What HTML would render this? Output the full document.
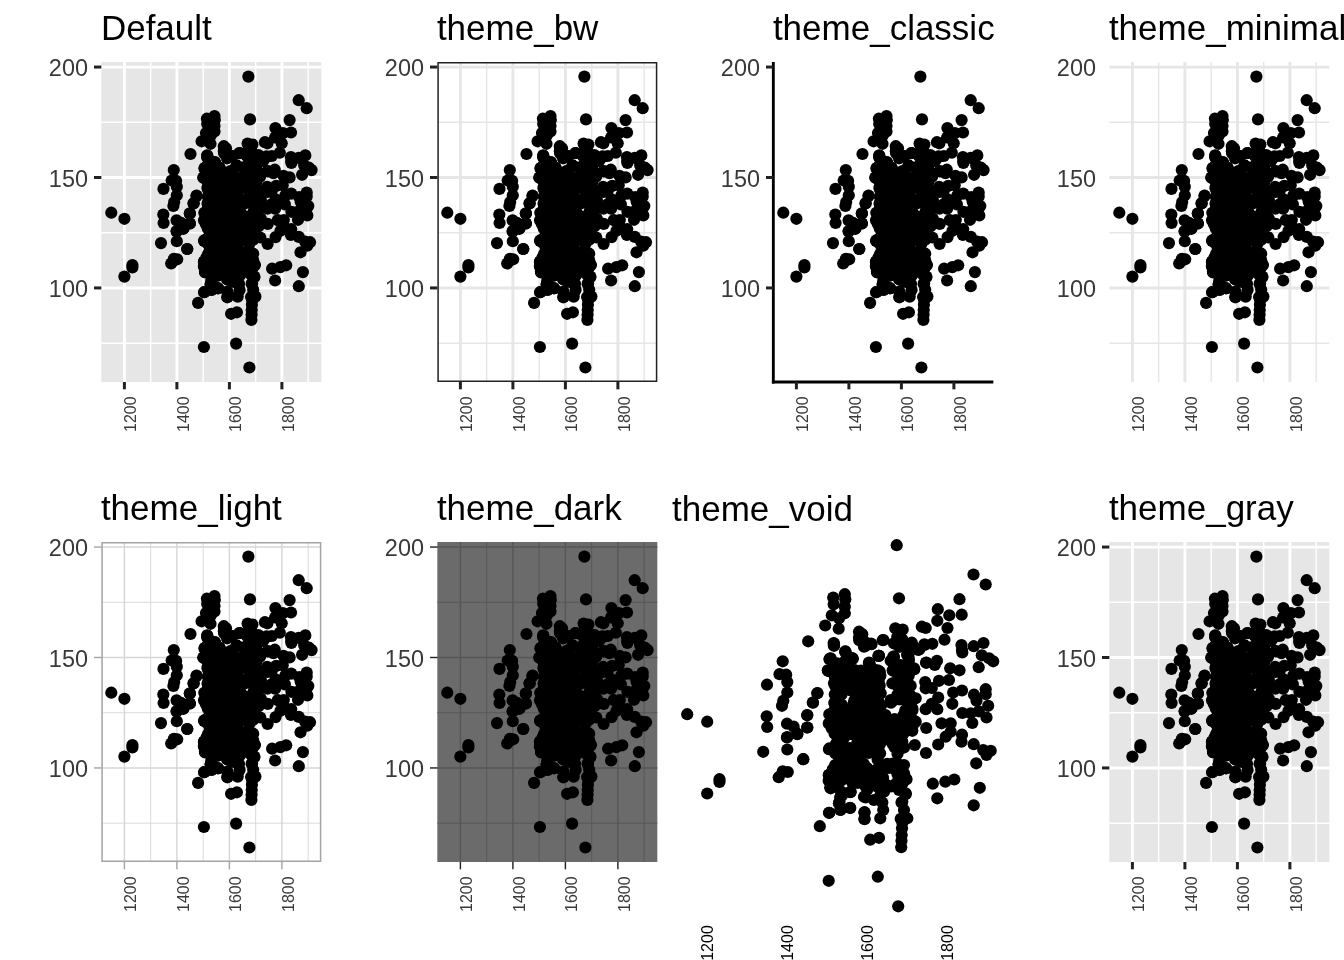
<!DOCTYPE html>
<html><head><meta charset="utf-8"><title>ggplot2 themes</title>
<style>
html,body{margin:0;padding:0;background:#fff;}
body{width:1344px;height:960px;overflow:hidden;}
svg{display:block;font-family:'Liberation Sans', Arial, sans-serif;}
</style></head><body>
<svg width="1344" height="960" viewBox="0 0 1344 960">
<rect width="1344" height="960" fill="#fff"/>
<defs><g id="pts"><g fill="#000"><circle cx="248.4" cy="76.6" r="6.1"/><circle cx="298.7" cy="100.2" r="6.1"/><circle cx="306.7" cy="108.2" r="6.1"/><circle cx="250.0" cy="119.4" r="6.1"/><circle cx="289.6" cy="120.1" r="6.1"/><circle cx="275.4" cy="128.1" r="6.1"/><circle cx="282.9" cy="133.1" r="6.1"/><circle cx="291.0" cy="132.5" r="6.1"/><circle cx="275.1" cy="137.5" r="6.1"/><circle cx="281.7" cy="143.3" r="6.1"/><circle cx="264.9" cy="142.2" r="6.1"/><circle cx="267.4" cy="143.3" r="6.1"/><circle cx="279.8" cy="152.7" r="6.1"/><circle cx="206.9" cy="118.7" r="6.1"/><circle cx="214.5" cy="116.0" r="6.1"/><circle cx="214.8" cy="120.1" r="6.1"/><circle cx="207.2" cy="124.1" r="6.1"/><circle cx="214.5" cy="126.1" r="6.1"/><circle cx="206.0" cy="133.1" r="6.1"/><circle cx="214.5" cy="131.5" r="6.1"/><circle cx="210.7" cy="135.5" r="6.1"/><circle cx="201.6" cy="141.3" r="6.1"/><circle cx="210.5" cy="143.8" r="6.1"/><circle cx="190.5" cy="154.0" r="6.1"/><circle cx="207.2" cy="155.4" r="6.1"/><circle cx="207.4" cy="157.7" r="6.1"/><circle cx="223.8" cy="146.2" r="6.1"/><circle cx="226.0" cy="148.3" r="6.1"/><circle cx="223.8" cy="150.9" r="6.1"/><circle cx="228.1" cy="155.0" r="6.1"/><circle cx="232.0" cy="156.3" r="6.1"/><circle cx="227.0" cy="158.3" r="6.1"/><circle cx="239.8" cy="153.0" r="6.1"/><circle cx="247.6" cy="143.6" r="6.1"/><circle cx="252.4" cy="144.5" r="6.1"/><circle cx="248.9" cy="150.3" r="6.1"/><circle cx="252.1" cy="152.3" r="6.1"/><circle cx="246.7" cy="155.6" r="6.1"/><circle cx="256.0" cy="156.3" r="6.1"/><circle cx="259.8" cy="159.0" r="6.1"/><circle cx="262.5" cy="161.0" r="6.1"/><circle cx="266.7" cy="157.0" r="6.1"/><circle cx="271.8" cy="156.0" r="6.1"/><circle cx="290.9" cy="157.0" r="6.1"/><circle cx="291.2" cy="161.0" r="6.1"/><circle cx="298.8" cy="157.9" r="6.1"/><circle cx="305.3" cy="155.4" r="6.1"/><circle cx="111.3" cy="212.7" r="6.1"/><circle cx="124.4" cy="218.8" r="6.1"/><circle cx="163.5" cy="188.9" r="6.1"/><circle cx="173.8" cy="170.1" r="6.1"/><circle cx="171.7" cy="180.5" r="6.1"/><circle cx="176.1" cy="180.9" r="6.1"/><circle cx="176.8" cy="186.8" r="6.1"/><circle cx="176.8" cy="195.3" r="6.1"/><circle cx="174.2" cy="202.0" r="6.1"/><circle cx="173.4" cy="206.0" r="6.1"/><circle cx="163.3" cy="214.5" r="6.1"/><circle cx="163.6" cy="223.0" r="6.1"/><circle cx="176.6" cy="220.4" r="6.1"/><circle cx="181.0" cy="222.8" r="6.1"/><circle cx="183.4" cy="228.4" r="6.1"/><circle cx="176.6" cy="231.5" r="6.1"/><circle cx="176.8" cy="241.2" r="6.1"/><circle cx="161.0" cy="243.1" r="6.1"/><circle cx="187.3" cy="249.0" r="6.1"/><circle cx="189.8" cy="213.6" r="6.1"/><circle cx="189.8" cy="223.5" r="6.1"/><circle cx="193.7" cy="203.4" r="6.1"/><circle cx="196.6" cy="195.7" r="6.1"/><circle cx="204.5" cy="240.2" r="6.1"/><circle cx="204.5" cy="168.4" r="6.1"/><circle cx="203.4" cy="177.4" r="6.1"/><circle cx="214.8" cy="162.1" r="6.1"/><circle cx="219.7" cy="168.0" r="6.1"/><circle cx="236.6" cy="165.7" r="6.1"/><circle cx="230.6" cy="171.8" r="6.1"/><circle cx="236.6" cy="178.2" r="6.1"/><circle cx="267.7" cy="171.1" r="6.1"/><circle cx="274.8" cy="169.7" r="6.1"/><circle cx="273.4" cy="173.1" r="6.1"/><circle cx="283.5" cy="175.8" r="6.1"/><circle cx="289.6" cy="177.4" r="6.1"/><circle cx="302.1" cy="174.8" r="6.1"/><circle cx="304.2" cy="165.3" r="6.1"/><circle cx="308.9" cy="167.7" r="6.1"/><circle cx="311.6" cy="170.1" r="6.1"/><circle cx="267.1" cy="186.8" r="6.1"/><circle cx="276.2" cy="185.9" r="6.1"/><circle cx="282.7" cy="185.2" r="6.1"/><circle cx="267.4" cy="191.9" r="6.1"/><circle cx="285.4" cy="195.3" r="6.1"/><circle cx="291.2" cy="193.6" r="6.1"/><circle cx="306.7" cy="192.6" r="6.1"/><circle cx="299.1" cy="197.0" r="6.1"/><circle cx="306.7" cy="196.6" r="6.1"/><circle cx="300.7" cy="202.0" r="6.1"/><circle cx="275.6" cy="199.3" r="6.1"/><circle cx="284.9" cy="204.4" r="6.1"/><circle cx="267.4" cy="208.7" r="6.1"/><circle cx="275.1" cy="208.7" r="6.1"/><circle cx="308.3" cy="206.0" r="6.1"/><circle cx="291.4" cy="211.8" r="6.1"/><circle cx="296.9" cy="212.0" r="6.1"/><circle cx="307.3" cy="215.4" r="6.1"/><circle cx="298.0" cy="219.8" r="6.1"/><circle cx="277.8" cy="220.1" r="6.1"/><circle cx="283.8" cy="220.1" r="6.1"/><circle cx="267.7" cy="223.9" r="6.1"/><circle cx="283.8" cy="226.8" r="6.1"/><circle cx="280.5" cy="230.8" r="6.1"/><circle cx="291.2" cy="229.2" r="6.1"/><circle cx="290.9" cy="234.9" r="6.1"/><circle cx="275.6" cy="237.1" r="6.1"/><circle cx="298.8" cy="236.9" r="6.1"/><circle cx="260.3" cy="237.5" r="6.1"/><circle cx="267.6" cy="244.0" r="6.1"/><circle cx="305.1" cy="241.6" r="6.1"/><circle cx="310.0" cy="242.2" r="6.1"/><circle cx="307.3" cy="245.6" r="6.1"/><circle cx="300.5" cy="252.3" r="6.1"/><circle cx="272.1" cy="268.7" r="6.1"/><circle cx="280.3" cy="267.1" r="6.1"/><circle cx="286.2" cy="265.3" r="6.1"/><circle cx="302.9" cy="272.1" r="6.1"/><circle cx="275.1" cy="280.5" r="6.1"/><circle cx="298.8" cy="286.2" r="6.1"/><circle cx="291.4" cy="163.0" r="6.1"/><circle cx="196.5" cy="195.9" r="6.1"/><circle cx="193.5" cy="203.3" r="6.1"/><circle cx="189.9" cy="213.4" r="6.1"/><circle cx="189.9" cy="223.5" r="6.1"/><circle cx="187.2" cy="249.0" r="6.1"/><circle cx="236.9" cy="165.7" r="6.1"/><circle cx="205.2" cy="167.7" r="6.1"/><circle cx="203.6" cy="177.8" r="6.1"/><circle cx="219.4" cy="167.7" r="6.1"/><circle cx="230.3" cy="171.1" r="6.1"/><circle cx="237.4" cy="178.5" r="6.1"/><circle cx="246.1" cy="166.4" r="6.1"/><circle cx="259.8" cy="176.5" r="6.1"/><circle cx="255.4" cy="165.0" r="6.1"/><circle cx="245.6" cy="187.9" r="6.1"/><circle cx="234.1" cy="187.9" r="6.1"/><circle cx="238.0" cy="195.9" r="6.1"/><circle cx="244.5" cy="201.3" r="6.1"/><circle cx="257.6" cy="189.9" r="6.1"/><circle cx="260.9" cy="200.0" r="6.1"/><circle cx="258.7" cy="208.0" r="6.1"/><circle cx="260.9" cy="218.8" r="6.1"/><circle cx="258.7" cy="226.1" r="6.1"/><circle cx="252.1" cy="234.9" r="6.1"/><circle cx="247.2" cy="239.6" r="6.1"/><circle cx="253.2" cy="239.6" r="6.1"/><circle cx="204.1" cy="240.9" r="6.1"/><circle cx="208.5" cy="253.7" r="6.1"/><circle cx="204.1" cy="261.7" r="6.1"/><circle cx="205.2" cy="272.5" r="6.1"/><circle cx="218.3" cy="275.1" r="6.1"/><circle cx="210.7" cy="284.5" r="6.1"/><circle cx="227.0" cy="279.2" r="6.1"/><circle cx="253.2" cy="253.7" r="6.1"/><circle cx="254.9" cy="265.1" r="6.1"/><circle cx="254.3" cy="276.5" r="6.1"/><circle cx="252.1" cy="283.2" r="6.1"/><circle cx="214.8" cy="171.8" r="6.1"/><circle cx="209.6" cy="181.2" r="6.1"/><circle cx="212.9" cy="187.9" r="6.1"/><circle cx="220.5" cy="187.9" r="6.1"/><circle cx="227.0" cy="181.2" r="6.1"/><circle cx="203.9" cy="347.0" r="6.1"/><circle cx="236.1" cy="343.6" r="6.1"/><circle cx="249.4" cy="367.5" r="6.1"/><circle cx="198.1" cy="302.9" r="6.1"/><circle cx="204.1" cy="292.2" r="6.1"/><circle cx="231.1" cy="313.8" r="6.1"/><circle cx="236.9" cy="312.3" r="6.1"/><circle cx="227.4" cy="291.9" r="6.1"/><circle cx="227.4" cy="297.0" r="6.1"/><circle cx="237.7" cy="296.6" r="6.1"/><circle cx="239.6" cy="289.9" r="6.1"/><circle cx="239.0" cy="283.9" r="6.1"/><circle cx="228.1" cy="279.8" r="6.1"/><circle cx="233.6" cy="281.9" r="6.1"/><circle cx="218.1" cy="275.4" r="6.1"/><circle cx="218.1" cy="288.3" r="6.1"/><circle cx="211.8" cy="289.6" r="6.1"/><circle cx="210.7" cy="284.5" r="6.1"/><circle cx="205.2" cy="271.8" r="6.1"/><circle cx="204.1" cy="265.7" r="6.1"/><circle cx="251.4" cy="319.9" r="6.1"/><circle cx="251.6" cy="314.8" r="6.1"/><circle cx="251.7" cy="310.1" r="6.1"/><circle cx="251.9" cy="304.7" r="6.1"/><circle cx="252.1" cy="300.0" r="6.1"/><circle cx="251.1" cy="297.0" r="6.1"/><circle cx="255.4" cy="296.6" r="6.1"/><circle cx="253.2" cy="289.9" r="6.1"/><circle cx="251.6" cy="283.9" r="6.1"/><circle cx="254.3" cy="277.2" r="6.1"/><circle cx="254.3" cy="265.1" r="6.1"/><circle cx="212.9" cy="277.8" r="6.1"/><circle cx="228.1" cy="271.1" r="6.1"/><circle cx="235.8" cy="271.1" r="6.1"/><circle cx="240.1" cy="275.1" r="6.1"/><circle cx="246.7" cy="269.8" r="6.1"/><circle cx="250.0" cy="273.8" r="6.1"/><circle cx="216.1" cy="264.4" r="6.1"/><circle cx="227.0" cy="264.4" r="6.1"/><circle cx="235.8" cy="263.1" r="6.1"/><circle cx="251.1" cy="263.1" r="6.1"/><circle cx="124.4" cy="276.6" r="6.1"/><circle cx="132.4" cy="265.1" r="6.1"/><circle cx="132.4" cy="267.4" r="6.1"/><circle cx="176.7" cy="231.1" r="6.1"/><circle cx="183.4" cy="228.8" r="6.1"/><circle cx="173.9" cy="258.8" r="6.1"/><circle cx="177.2" cy="259.3" r="6.1"/><circle cx="171.2" cy="263.5" r="6.1"/><circle cx="204.3" cy="292.2" r="6.1"/><circle cx="227.4" cy="291.7" r="6.1"/><circle cx="227.4" cy="297.3" r="6.1"/><circle cx="211.5" cy="289.9" r="6.1"/><circle cx="217.9" cy="288.2" r="6.1"/><circle cx="211.0" cy="283.2" r="6.1"/><circle cx="218.1" cy="275.5" r="6.1"/><circle cx="205.0" cy="271.8" r="6.1"/><circle cx="203.9" cy="261.7" r="6.1"/><circle cx="203.9" cy="266.4" r="6.1"/><circle cx="204.5" cy="240.9" r="6.1"/><circle cx="208.3" cy="253.7" r="6.1"/><circle cx="271.5" cy="191.6" r="6.1"/><circle cx="271.5" cy="204.4" r="6.1"/><circle cx="302.2" cy="210.4" r="6.1"/><circle cx="204.3" cy="261.6" r="6.1"/><circle cx="212.0" cy="266.3" r="6.1"/><circle cx="212.0" cy="275.0" r="6.1"/><circle cx="211.4" cy="279.7" r="6.1"/><circle cx="229.4" cy="273.0" r="6.1"/><circle cx="233.8" cy="269.6" r="6.1"/><circle cx="238.2" cy="275.0" r="6.1"/><circle cx="237.1" cy="279.7" r="6.1"/><circle cx="240.9" cy="269.0" r="6.1"/><circle cx="244.7" cy="271.0" r="6.1"/><circle cx="236.6" cy="165.7" r="6.1"/><circle cx="214.8" cy="162.4" r="6.1"/><circle cx="219.4" cy="167.7" r="6.1"/><circle cx="204.7" cy="168.0" r="6.1"/><circle cx="267.7" cy="171.4" r="6.1"/><circle cx="255.4" cy="164.4" r="6.1"/><circle cx="246.7" cy="166.4" r="6.1"/><circle cx="244.5" cy="169.7" r="6.1"/><circle cx="256.5" cy="169.1" r="6.1"/><circle cx="230.3" cy="171.8" r="6.1"/><circle cx="251.1" cy="173.1" r="6.1"/><circle cx="259.8" cy="175.8" r="6.1"/><circle cx="246.1" cy="177.8" r="6.1"/><circle cx="255.4" cy="178.5" r="6.1"/><circle cx="236.3" cy="178.2" r="6.1"/><circle cx="203.6" cy="177.8" r="6.1"/><circle cx="209.6" cy="171.8" r="6.1"/><circle cx="212.9" cy="178.5" r="6.1"/><circle cx="220.5" cy="178.5" r="6.1"/><circle cx="227.0" cy="178.5" r="6.1"/><circle cx="246.7" cy="187.9" r="6.1"/><circle cx="254.3" cy="187.9" r="6.1"/><circle cx="233.6" cy="187.9" r="6.1"/><circle cx="207.4" cy="187.9" r="6.1"/><circle cx="221.6" cy="185.2" r="6.1"/><circle cx="215.0" cy="169.1" r="6.1"/><circle cx="207.3" cy="155.8" r="6.1"/><circle cx="207.3" cy="157.1" r="6.1"/><circle cx="215.0" cy="162.8" r="6.1"/><circle cx="204.9" cy="168.5" r="6.1"/><circle cx="219.4" cy="168.2" r="6.1"/><circle cx="204.1" cy="177.6" r="6.1"/><circle cx="227.8" cy="157.8" r="6.1"/><circle cx="224.0" cy="153.1" r="6.1"/><circle cx="231.6" cy="155.8" r="6.1"/><circle cx="236.5" cy="165.8" r="6.1"/><circle cx="230.5" cy="172.2" r="6.1"/><circle cx="236.0" cy="178.6" r="6.1"/><circle cx="239.3" cy="153.1" r="6.1"/><circle cx="246.9" cy="155.8" r="6.1"/><circle cx="246.4" cy="167.2" r="6.1"/><circle cx="256.2" cy="166.5" r="6.1"/><circle cx="250.2" cy="158.5" r="6.1"/><circle cx="258.4" cy="155.1" r="6.1"/><circle cx="263.3" cy="160.5" r="6.1"/><circle cx="266.5" cy="156.4" r="6.1"/><circle cx="245.8" cy="177.3" r="6.1"/><circle cx="260.0" cy="176.6" r="6.1"/><circle cx="246.6" cy="188.0" r="6.1"/><circle cx="256.7" cy="190.7" r="6.1"/><circle cx="232.7" cy="187.3" r="6.1"/><circle cx="237.1" cy="196.7" r="6.1"/><circle cx="244.7" cy="203.4" r="6.1"/><circle cx="260.0" cy="200.1" r="6.1"/><circle cx="208.2" cy="183.3" r="6.1"/><circle cx="208.2" cy="190.0" r="6.1"/><circle cx="207.9" cy="196.7" r="6.1"/><circle cx="207.6" cy="203.4" r="6.1"/><circle cx="207.3" cy="210.2" r="6.1"/><circle cx="204.3" cy="212.8" r="6.1"/><circle cx="206.7" cy="177.0" r="6.1"/><circle cx="209.9" cy="177.2" r="6.1"/><circle cx="213.8" cy="176.7" r="6.1"/><circle cx="217.9" cy="177.4" r="6.1"/><circle cx="220.9" cy="177.2" r="6.1"/><circle cx="225.0" cy="177.7" r="6.1"/><circle cx="229.0" cy="176.7" r="6.1"/><circle cx="233.0" cy="176.5" r="6.1"/><circle cx="236.0" cy="177.5" r="6.1"/><circle cx="247.6" cy="177.2" r="6.1"/><circle cx="251.4" cy="176.8" r="6.1"/><circle cx="254.9" cy="177.2" r="6.1"/><circle cx="258.5" cy="177.0" r="6.1"/><circle cx="207.7" cy="181.4" r="6.1"/><circle cx="212.2" cy="181.8" r="6.1"/><circle cx="216.1" cy="180.7" r="6.1"/><circle cx="219.3" cy="181.3" r="6.1"/><circle cx="222.5" cy="181.0" r="6.1"/><circle cx="226.4" cy="180.4" r="6.1"/><circle cx="230.0" cy="181.5" r="6.1"/><circle cx="233.8" cy="180.6" r="6.1"/><circle cx="237.8" cy="181.6" r="6.1"/><circle cx="249.5" cy="181.6" r="6.1"/><circle cx="252.5" cy="180.9" r="6.1"/><circle cx="256.3" cy="181.7" r="6.1"/><circle cx="210.2" cy="184.6" r="6.1"/><circle cx="217.4" cy="185.1" r="6.1"/><circle cx="221.9" cy="185.3" r="6.1"/><circle cx="225.0" cy="185.2" r="6.1"/><circle cx="228.9" cy="184.3" r="6.1"/><circle cx="232.9" cy="185.5" r="6.1"/><circle cx="236.6" cy="185.5" r="6.1"/><circle cx="250.6" cy="184.5" r="6.1"/><circle cx="254.4" cy="184.3" r="6.1"/><circle cx="208.4" cy="188.4" r="6.1"/><circle cx="219.9" cy="189.8" r="6.1"/><circle cx="223.1" cy="189.0" r="6.1"/><circle cx="226.3" cy="188.3" r="6.1"/><circle cx="230.3" cy="188.6" r="6.1"/><circle cx="234.7" cy="188.4" r="6.1"/><circle cx="237.3" cy="189.7" r="6.1"/><circle cx="249.1" cy="189.8" r="6.1"/><circle cx="253.3" cy="189.3" r="6.1"/><circle cx="256.2" cy="188.8" r="6.1"/><circle cx="210.5" cy="193.7" r="6.1"/><circle cx="218.0" cy="193.3" r="6.1"/><circle cx="220.9" cy="193.0" r="6.1"/><circle cx="224.8" cy="192.2" r="6.1"/><circle cx="228.1" cy="192.6" r="6.1"/><circle cx="232.1" cy="193.3" r="6.1"/><circle cx="236.7" cy="192.9" r="6.1"/><circle cx="250.5" cy="192.5" r="6.1"/><circle cx="254.8" cy="193.6" r="6.1"/><circle cx="208.8" cy="197.4" r="6.1"/><circle cx="212.3" cy="196.9" r="6.1"/><circle cx="223.7" cy="196.8" r="6.1"/><circle cx="226.7" cy="197.6" r="6.1"/><circle cx="230.8" cy="196.4" r="6.1"/><circle cx="233.8" cy="196.4" r="6.1"/><circle cx="248.9" cy="197.0" r="6.1"/><circle cx="252.3" cy="196.1" r="6.1"/><circle cx="257.1" cy="197.2" r="6.1"/><circle cx="209.8" cy="200.6" r="6.1"/><circle cx="220.8" cy="201.6" r="6.1"/><circle cx="224.8" cy="200.8" r="6.1"/><circle cx="228.8" cy="201.6" r="6.1"/><circle cx="232.3" cy="201.6" r="6.1"/><circle cx="236.1" cy="201.0" r="6.1"/><circle cx="246.6" cy="201.4" r="6.1"/><circle cx="250.5" cy="200.9" r="6.1"/><circle cx="254.9" cy="201.0" r="6.1"/><circle cx="258.1" cy="200.9" r="6.1"/><circle cx="207.9" cy="204.5" r="6.1"/><circle cx="212.3" cy="204.9" r="6.1"/><circle cx="219.9" cy="204.8" r="6.1"/><circle cx="223.3" cy="204.9" r="6.1"/><circle cx="226.8" cy="205.2" r="6.1"/><circle cx="230.5" cy="204.9" r="6.1"/><circle cx="234.2" cy="205.6" r="6.1"/><circle cx="238.2" cy="205.5" r="6.1"/><circle cx="255.9" cy="204.5" r="6.1"/><circle cx="210.3" cy="208.3" r="6.1"/><circle cx="214.3" cy="209.6" r="6.1"/><circle cx="217.2" cy="209.6" r="6.1"/><circle cx="221.1" cy="208.8" r="6.1"/><circle cx="225.6" cy="209.4" r="6.1"/><circle cx="228.2" cy="208.7" r="6.1"/><circle cx="232.4" cy="208.6" r="6.1"/><circle cx="235.7" cy="208.6" r="6.1"/><circle cx="254.1" cy="209.6" r="6.1"/><circle cx="258.7" cy="209.6" r="6.1"/><circle cx="208.0" cy="212.2" r="6.1"/><circle cx="211.9" cy="213.5" r="6.1"/><circle cx="216.1" cy="212.4" r="6.1"/><circle cx="218.9" cy="213.5" r="6.1"/><circle cx="223.2" cy="213.1" r="6.1"/><circle cx="226.3" cy="212.1" r="6.1"/><circle cx="230.8" cy="212.7" r="6.1"/><circle cx="233.7" cy="213.5" r="6.1"/><circle cx="238.1" cy="213.3" r="6.1"/><circle cx="241.1" cy="213.4" r="6.1"/><circle cx="252.9" cy="213.5" r="6.1"/><circle cx="256.2" cy="212.2" r="6.1"/><circle cx="205.8" cy="216.3" r="6.1"/><circle cx="209.9" cy="216.5" r="6.1"/><circle cx="214.2" cy="216.4" r="6.1"/><circle cx="217.6" cy="216.3" r="6.1"/><circle cx="221.1" cy="216.0" r="6.1"/><circle cx="224.6" cy="216.0" r="6.1"/><circle cx="229.0" cy="216.9" r="6.1"/><circle cx="232.0" cy="216.7" r="6.1"/><circle cx="236.7" cy="216.2" r="6.1"/><circle cx="240.2" cy="216.7" r="6.1"/><circle cx="243.5" cy="217.3" r="6.1"/><circle cx="247.1" cy="216.8" r="6.1"/><circle cx="251.2" cy="217.6" r="6.1"/><circle cx="254.4" cy="217.3" r="6.1"/><circle cx="258.6" cy="217.0" r="6.1"/><circle cx="204.0" cy="220.2" r="6.1"/><circle cx="207.7" cy="221.1" r="6.1"/><circle cx="211.7" cy="220.2" r="6.1"/><circle cx="215.2" cy="221.3" r="6.1"/><circle cx="219.9" cy="221.0" r="6.1"/><circle cx="222.8" cy="220.3" r="6.1"/><circle cx="226.6" cy="220.7" r="6.1"/><circle cx="230.1" cy="220.7" r="6.1"/><circle cx="233.9" cy="221.5" r="6.1"/><circle cx="238.6" cy="220.8" r="6.1"/><circle cx="241.3" cy="221.5" r="6.1"/><circle cx="245.1" cy="220.5" r="6.1"/><circle cx="248.4" cy="220.6" r="6.1"/><circle cx="252.8" cy="220.8" r="6.1"/><circle cx="256.1" cy="220.8" r="6.1"/><circle cx="259.6" cy="220.4" r="6.1"/><circle cx="205.8" cy="224.0" r="6.1"/><circle cx="209.9" cy="224.3" r="6.1"/><circle cx="214.0" cy="224.8" r="6.1"/><circle cx="217.9" cy="225.0" r="6.1"/><circle cx="221.5" cy="225.3" r="6.1"/><circle cx="224.8" cy="224.5" r="6.1"/><circle cx="229.3" cy="224.2" r="6.1"/><circle cx="232.7" cy="225.0" r="6.1"/><circle cx="235.5" cy="225.3" r="6.1"/><circle cx="240.3" cy="224.9" r="6.1"/><circle cx="243.8" cy="225.2" r="6.1"/><circle cx="246.8" cy="224.8" r="6.1"/><circle cx="250.9" cy="225.3" r="6.1"/><circle cx="255.1" cy="225.3" r="6.1"/><circle cx="258.5" cy="225.4" r="6.1"/><circle cx="207.8" cy="228.5" r="6.1"/><circle cx="211.5" cy="229.2" r="6.1"/><circle cx="215.8" cy="228.9" r="6.1"/><circle cx="219.6" cy="229.0" r="6.1"/><circle cx="223.1" cy="227.9" r="6.1"/><circle cx="227.2" cy="229.1" r="6.1"/><circle cx="230.5" cy="228.8" r="6.1"/><circle cx="234.5" cy="228.0" r="6.1"/><circle cx="238.3" cy="228.3" r="6.1"/><circle cx="241.1" cy="228.3" r="6.1"/><circle cx="245.7" cy="228.2" r="6.1"/><circle cx="249.4" cy="229.5" r="6.1"/><circle cx="252.8" cy="228.5" r="6.1"/><circle cx="210.4" cy="232.4" r="6.1"/><circle cx="213.9" cy="231.9" r="6.1"/><circle cx="225.2" cy="232.3" r="6.1"/><circle cx="228.7" cy="232.6" r="6.1"/><circle cx="232.3" cy="232.1" r="6.1"/><circle cx="236.6" cy="232.2" r="6.1"/><circle cx="240.4" cy="233.4" r="6.1"/><circle cx="242.9" cy="232.6" r="6.1"/><circle cx="247.7" cy="233.4" r="6.1"/><circle cx="250.9" cy="232.3" r="6.1"/><circle cx="208.7" cy="236.7" r="6.1"/><circle cx="212.5" cy="237.0" r="6.1"/><circle cx="222.5" cy="236.6" r="6.1"/><circle cx="226.8" cy="236.3" r="6.1"/><circle cx="230.1" cy="236.4" r="6.1"/><circle cx="234.0" cy="237.2" r="6.1"/><circle cx="237.3" cy="237.1" r="6.1"/><circle cx="245.9" cy="237.0" r="6.1"/><circle cx="249.6" cy="236.3" r="6.1"/><circle cx="205.9" cy="241.2" r="6.1"/><circle cx="209.8" cy="241.3" r="6.1"/><circle cx="213.5" cy="240.2" r="6.1"/><circle cx="217.6" cy="240.1" r="6.1"/><circle cx="221.1" cy="241.4" r="6.1"/><circle cx="225.5" cy="241.1" r="6.1"/><circle cx="228.9" cy="241.3" r="6.1"/><circle cx="233.0" cy="240.7" r="6.1"/><circle cx="236.4" cy="239.9" r="6.1"/><circle cx="251.5" cy="240.0" r="6.1"/><circle cx="208.3" cy="244.4" r="6.1"/><circle cx="211.5" cy="244.0" r="6.1"/><circle cx="215.3" cy="245.2" r="6.1"/><circle cx="219.4" cy="244.1" r="6.1"/><circle cx="223.6" cy="245.4" r="6.1"/><circle cx="226.8" cy="244.0" r="6.1"/><circle cx="230.1" cy="243.9" r="6.1"/><circle cx="234.0" cy="243.9" r="6.1"/><circle cx="237.6" cy="244.2" r="6.1"/><circle cx="249.0" cy="244.6" r="6.1"/><circle cx="213.7" cy="248.5" r="6.1"/><circle cx="218.1" cy="249.1" r="6.1"/><circle cx="221.7" cy="247.8" r="6.1"/><circle cx="224.4" cy="248.9" r="6.1"/><circle cx="236.0" cy="249.2" r="6.1"/><circle cx="212.2" cy="252.2" r="6.1"/><circle cx="215.2" cy="252.1" r="6.1"/><circle cx="219.6" cy="252.9" r="6.1"/><circle cx="222.6" cy="251.8" r="6.1"/><circle cx="226.9" cy="252.7" r="6.1"/><circle cx="237.7" cy="252.5" r="6.1"/><circle cx="242.3" cy="252.8" r="6.1"/><circle cx="245.9" cy="252.5" r="6.1"/><circle cx="248.7" cy="252.1" r="6.1"/><circle cx="206.6" cy="257.2" r="6.1"/><circle cx="209.8" cy="255.8" r="6.1"/><circle cx="213.6" cy="256.4" r="6.1"/><circle cx="217.8" cy="256.0" r="6.1"/><circle cx="221.6" cy="256.9" r="6.1"/><circle cx="225.0" cy="256.0" r="6.1"/><circle cx="229.3" cy="256.2" r="6.1"/><circle cx="235.7" cy="256.9" r="6.1"/><circle cx="239.5" cy="257.2" r="6.1"/><circle cx="243.5" cy="256.0" r="6.1"/><circle cx="246.9" cy="256.4" r="6.1"/><circle cx="251.2" cy="257.2" r="6.1"/><circle cx="208.8" cy="261.1" r="6.1"/><circle cx="212.3" cy="261.3" r="6.1"/><circle cx="216.3" cy="260.2" r="6.1"/><circle cx="219.0" cy="261.2" r="6.1"/><circle cx="223.4" cy="259.7" r="6.1"/><circle cx="227.0" cy="260.3" r="6.1"/><circle cx="230.4" cy="260.2" r="6.1"/><circle cx="233.8" cy="259.7" r="6.1"/><circle cx="237.7" cy="260.2" r="6.1"/><circle cx="248.9" cy="261.0" r="6.1"/><circle cx="253.2" cy="260.4" r="6.1"/><circle cx="206.9" cy="263.7" r="6.1"/><circle cx="210.0" cy="265.0" r="6.1"/><circle cx="214.2" cy="263.7" r="6.1"/><circle cx="216.9" cy="263.7" r="6.1"/><circle cx="221.8" cy="264.1" r="6.1"/><circle cx="225.3" cy="265.1" r="6.1"/><circle cx="228.5" cy="264.1" r="6.1"/><circle cx="233.0" cy="264.6" r="6.1"/><circle cx="235.8" cy="264.8" r="6.1"/><circle cx="239.6" cy="264.1" r="6.1"/><circle cx="251.5" cy="263.7" r="6.1"/><circle cx="254.3" cy="264.4" r="6.1"/><circle cx="208.8" cy="267.9" r="6.1"/><circle cx="219.5" cy="268.1" r="6.1"/><circle cx="222.9" cy="268.2" r="6.1"/><circle cx="227.2" cy="267.7" r="6.1"/><circle cx="233.9" cy="267.7" r="6.1"/><circle cx="248.8" cy="267.8" r="6.1"/><circle cx="252.3" cy="268.4" r="6.1"/></g></g></defs>
<rect x="101.33" y="62.00" width="220.0" height="320.0" fill="#E6E6E6"/>
<line x1="150.65" x2="150.65" y1="62.00" y2="382.00" stroke="#FFFFFF" stroke-width="1.42"/>
<line x1="203.15" x2="203.15" y1="62.00" y2="382.00" stroke="#FFFFFF" stroke-width="1.42"/>
<line x1="255.65" x2="255.65" y1="62.00" y2="382.00" stroke="#FFFFFF" stroke-width="1.42"/>
<line x1="308.15" x2="308.15" y1="62.00" y2="382.00" stroke="#FFFFFF" stroke-width="1.42"/>
<line x1="101.33" x2="321.33" y1="343.18" y2="343.18" stroke="#FFFFFF" stroke-width="1.42"/>
<line x1="101.33" x2="321.33" y1="232.73" y2="232.73" stroke="#FFFFFF" stroke-width="1.42"/>
<line x1="101.33" x2="321.33" y1="122.28" y2="122.28" stroke="#FFFFFF" stroke-width="1.42"/>
<line x1="124.40" x2="124.40" y1="62.00" y2="382.00" stroke="#FFFFFF" stroke-width="2.85"/>
<line x1="176.90" x2="176.90" y1="62.00" y2="382.00" stroke="#FFFFFF" stroke-width="2.85"/>
<line x1="229.40" x2="229.40" y1="62.00" y2="382.00" stroke="#FFFFFF" stroke-width="2.85"/>
<line x1="281.90" x2="281.90" y1="62.00" y2="382.00" stroke="#FFFFFF" stroke-width="2.85"/>
<line x1="101.33" x2="321.33" y1="287.95" y2="287.95" stroke="#FFFFFF" stroke-width="2.85"/>
<line x1="101.33" x2="321.33" y1="177.50" y2="177.50" stroke="#FFFFFF" stroke-width="2.85"/>
<line x1="101.33" x2="321.33" y1="67.05" y2="67.05" stroke="#FFFFFF" stroke-width="2.85"/>
<use href="#pts" x="0" y="0"/>
<line x1="124.40" x2="124.40" y1="382.00" y2="389.33" stroke="#222222" stroke-width="3.0"/>
<line x1="176.90" x2="176.90" y1="382.00" y2="389.33" stroke="#222222" stroke-width="3.0"/>
<line x1="229.40" x2="229.40" y1="382.00" y2="389.33" stroke="#222222" stroke-width="3.0"/>
<line x1="281.90" x2="281.90" y1="382.00" y2="389.33" stroke="#222222" stroke-width="3.0"/>
<line x1="94.00" x2="101.33" y1="287.95" y2="287.95" stroke="#222222" stroke-width="3.0"/>
<line x1="94.00" x2="101.33" y1="177.50" y2="177.50" stroke="#222222" stroke-width="3.0"/>
<line x1="94.00" x2="101.33" y1="67.05" y2="67.05" stroke="#222222" stroke-width="3.0"/>
<text x="88.03" y="297.05" font-size="23.47" text-anchor="end" fill="#393939">100</text>
<text x="88.03" y="186.60" font-size="23.47" text-anchor="end" fill="#393939">150</text>
<text x="88.03" y="76.15" font-size="23.47" text-anchor="end" fill="#393939">200</text>
<text transform="translate(136.15,396.40) rotate(-90)" font-size="16" text-anchor="end" fill="#393939">1200</text>
<text transform="translate(188.65,396.40) rotate(-90)" font-size="16" text-anchor="end" fill="#393939">1400</text>
<text transform="translate(241.15,396.40) rotate(-90)" font-size="16" text-anchor="end" fill="#393939">1600</text>
<text transform="translate(293.65,396.40) rotate(-90)" font-size="16" text-anchor="end" fill="#393939">1800</text>
<text x="100.90" y="39.60" font-size="35" fill="#000">Default</text>
<rect x="437.33" y="62.00" width="220.0" height="320.0" fill="#FFFFFF"/>
<line x1="486.65" x2="486.65" y1="62.00" y2="382.00" stroke="#E6E6E6" stroke-width="1.42"/>
<line x1="539.15" x2="539.15" y1="62.00" y2="382.00" stroke="#E6E6E6" stroke-width="1.42"/>
<line x1="591.65" x2="591.65" y1="62.00" y2="382.00" stroke="#E6E6E6" stroke-width="1.42"/>
<line x1="644.15" x2="644.15" y1="62.00" y2="382.00" stroke="#E6E6E6" stroke-width="1.42"/>
<line x1="437.33" x2="657.33" y1="343.18" y2="343.18" stroke="#E6E6E6" stroke-width="1.42"/>
<line x1="437.33" x2="657.33" y1="232.73" y2="232.73" stroke="#E6E6E6" stroke-width="1.42"/>
<line x1="437.33" x2="657.33" y1="122.28" y2="122.28" stroke="#E6E6E6" stroke-width="1.42"/>
<line x1="460.40" x2="460.40" y1="62.00" y2="382.00" stroke="#E6E6E6" stroke-width="2.85"/>
<line x1="512.90" x2="512.90" y1="62.00" y2="382.00" stroke="#E6E6E6" stroke-width="2.85"/>
<line x1="565.40" x2="565.40" y1="62.00" y2="382.00" stroke="#E6E6E6" stroke-width="2.85"/>
<line x1="617.90" x2="617.90" y1="62.00" y2="382.00" stroke="#E6E6E6" stroke-width="2.85"/>
<line x1="437.33" x2="657.33" y1="287.95" y2="287.95" stroke="#E6E6E6" stroke-width="2.85"/>
<line x1="437.33" x2="657.33" y1="177.50" y2="177.50" stroke="#E6E6E6" stroke-width="2.85"/>
<line x1="437.33" x2="657.33" y1="67.05" y2="67.05" stroke="#E6E6E6" stroke-width="2.85"/>
<use href="#pts" x="336" y="0"/>
<rect x="438.08" y="62.75" width="218.50" height="318.50" fill="none" stroke="#222222" stroke-width="1.5"/>
<line x1="460.40" x2="460.40" y1="382.00" y2="389.33" stroke="#222222" stroke-width="3.0"/>
<line x1="512.90" x2="512.90" y1="382.00" y2="389.33" stroke="#222222" stroke-width="3.0"/>
<line x1="565.40" x2="565.40" y1="382.00" y2="389.33" stroke="#222222" stroke-width="3.0"/>
<line x1="617.90" x2="617.90" y1="382.00" y2="389.33" stroke="#222222" stroke-width="3.0"/>
<line x1="430.00" x2="437.33" y1="287.95" y2="287.95" stroke="#222222" stroke-width="3.0"/>
<line x1="430.00" x2="437.33" y1="177.50" y2="177.50" stroke="#222222" stroke-width="3.0"/>
<line x1="430.00" x2="437.33" y1="67.05" y2="67.05" stroke="#222222" stroke-width="3.0"/>
<text x="424.03" y="297.05" font-size="23.47" text-anchor="end" fill="#393939">100</text>
<text x="424.03" y="186.60" font-size="23.47" text-anchor="end" fill="#393939">150</text>
<text x="424.03" y="76.15" font-size="23.47" text-anchor="end" fill="#393939">200</text>
<text transform="translate(472.15,396.40) rotate(-90)" font-size="16" text-anchor="end" fill="#393939">1200</text>
<text transform="translate(524.65,396.40) rotate(-90)" font-size="16" text-anchor="end" fill="#393939">1400</text>
<text transform="translate(577.15,396.40) rotate(-90)" font-size="16" text-anchor="end" fill="#393939">1600</text>
<text transform="translate(629.65,396.40) rotate(-90)" font-size="16" text-anchor="end" fill="#393939">1800</text>
<text x="436.90" y="39.60" font-size="35" fill="#000">theme_bw</text>
<use href="#pts" x="672" y="0"/>
<line x1="773.33" x2="773.33" y1="62.00" y2="383.43" stroke="#000000" stroke-width="2.85"/>
<line x1="771.91" x2="993.33" y1="382.00" y2="382.00" stroke="#000000" stroke-width="2.85"/>
<line x1="796.40" x2="796.40" y1="382.00" y2="389.33" stroke="#222222" stroke-width="3.0"/>
<line x1="848.90" x2="848.90" y1="382.00" y2="389.33" stroke="#222222" stroke-width="3.0"/>
<line x1="901.40" x2="901.40" y1="382.00" y2="389.33" stroke="#222222" stroke-width="3.0"/>
<line x1="953.90" x2="953.90" y1="382.00" y2="389.33" stroke="#222222" stroke-width="3.0"/>
<line x1="766.00" x2="773.33" y1="287.95" y2="287.95" stroke="#222222" stroke-width="3.0"/>
<line x1="766.00" x2="773.33" y1="177.50" y2="177.50" stroke="#222222" stroke-width="3.0"/>
<line x1="766.00" x2="773.33" y1="67.05" y2="67.05" stroke="#222222" stroke-width="3.0"/>
<text x="760.03" y="297.05" font-size="23.47" text-anchor="end" fill="#393939">100</text>
<text x="760.03" y="186.60" font-size="23.47" text-anchor="end" fill="#393939">150</text>
<text x="760.03" y="76.15" font-size="23.47" text-anchor="end" fill="#393939">200</text>
<text transform="translate(808.15,396.40) rotate(-90)" font-size="16" text-anchor="end" fill="#393939">1200</text>
<text transform="translate(860.65,396.40) rotate(-90)" font-size="16" text-anchor="end" fill="#393939">1400</text>
<text transform="translate(913.15,396.40) rotate(-90)" font-size="16" text-anchor="end" fill="#393939">1600</text>
<text transform="translate(965.65,396.40) rotate(-90)" font-size="16" text-anchor="end" fill="#393939">1800</text>
<text x="772.90" y="39.60" font-size="35" fill="#000">theme_classic</text>
<line x1="1158.65" x2="1158.65" y1="62.00" y2="382.00" stroke="#E6E6E6" stroke-width="1.42"/>
<line x1="1211.15" x2="1211.15" y1="62.00" y2="382.00" stroke="#E6E6E6" stroke-width="1.42"/>
<line x1="1263.65" x2="1263.65" y1="62.00" y2="382.00" stroke="#E6E6E6" stroke-width="1.42"/>
<line x1="1316.15" x2="1316.15" y1="62.00" y2="382.00" stroke="#E6E6E6" stroke-width="1.42"/>
<line x1="1109.33" x2="1329.33" y1="343.18" y2="343.18" stroke="#E6E6E6" stroke-width="1.42"/>
<line x1="1109.33" x2="1329.33" y1="232.73" y2="232.73" stroke="#E6E6E6" stroke-width="1.42"/>
<line x1="1109.33" x2="1329.33" y1="122.28" y2="122.28" stroke="#E6E6E6" stroke-width="1.42"/>
<line x1="1132.40" x2="1132.40" y1="62.00" y2="382.00" stroke="#E6E6E6" stroke-width="2.85"/>
<line x1="1184.90" x2="1184.90" y1="62.00" y2="382.00" stroke="#E6E6E6" stroke-width="2.85"/>
<line x1="1237.40" x2="1237.40" y1="62.00" y2="382.00" stroke="#E6E6E6" stroke-width="2.85"/>
<line x1="1289.90" x2="1289.90" y1="62.00" y2="382.00" stroke="#E6E6E6" stroke-width="2.85"/>
<line x1="1109.33" x2="1329.33" y1="287.95" y2="287.95" stroke="#E6E6E6" stroke-width="2.85"/>
<line x1="1109.33" x2="1329.33" y1="177.50" y2="177.50" stroke="#E6E6E6" stroke-width="2.85"/>
<line x1="1109.33" x2="1329.33" y1="67.05" y2="67.05" stroke="#E6E6E6" stroke-width="2.85"/>
<use href="#pts" x="1008" y="0"/>
<text x="1096.03" y="297.05" font-size="23.47" text-anchor="end" fill="#393939">100</text>
<text x="1096.03" y="186.60" font-size="23.47" text-anchor="end" fill="#393939">150</text>
<text x="1096.03" y="76.15" font-size="23.47" text-anchor="end" fill="#393939">200</text>
<text transform="translate(1144.15,396.40) rotate(-90)" font-size="16" text-anchor="end" fill="#393939">1200</text>
<text transform="translate(1196.65,396.40) rotate(-90)" font-size="16" text-anchor="end" fill="#393939">1400</text>
<text transform="translate(1249.15,396.40) rotate(-90)" font-size="16" text-anchor="end" fill="#393939">1600</text>
<text transform="translate(1301.65,396.40) rotate(-90)" font-size="16" text-anchor="end" fill="#393939">1800</text>
<text x="1108.90" y="39.60" font-size="35" fill="#000">theme_minimal</text>
<rect x="101.33" y="542.00" width="220.0" height="320.0" fill="#FFFFFF"/>
<line x1="150.65" x2="150.65" y1="542.00" y2="862.00" stroke="#D6D6D6" stroke-width="0.9"/>
<line x1="203.15" x2="203.15" y1="542.00" y2="862.00" stroke="#D6D6D6" stroke-width="0.9"/>
<line x1="255.65" x2="255.65" y1="542.00" y2="862.00" stroke="#D6D6D6" stroke-width="0.9"/>
<line x1="308.15" x2="308.15" y1="542.00" y2="862.00" stroke="#D6D6D6" stroke-width="0.9"/>
<line x1="101.33" x2="321.33" y1="823.17" y2="823.17" stroke="#D6D6D6" stroke-width="0.9"/>
<line x1="101.33" x2="321.33" y1="712.73" y2="712.73" stroke="#D6D6D6" stroke-width="0.9"/>
<line x1="101.33" x2="321.33" y1="602.27" y2="602.27" stroke="#D6D6D6" stroke-width="0.9"/>
<line x1="124.40" x2="124.40" y1="542.00" y2="862.00" stroke="#D6D6D6" stroke-width="1.42"/>
<line x1="176.90" x2="176.90" y1="542.00" y2="862.00" stroke="#D6D6D6" stroke-width="1.42"/>
<line x1="229.40" x2="229.40" y1="542.00" y2="862.00" stroke="#D6D6D6" stroke-width="1.42"/>
<line x1="281.90" x2="281.90" y1="542.00" y2="862.00" stroke="#D6D6D6" stroke-width="1.42"/>
<line x1="101.33" x2="321.33" y1="767.95" y2="767.95" stroke="#D6D6D6" stroke-width="1.42"/>
<line x1="101.33" x2="321.33" y1="657.50" y2="657.50" stroke="#D6D6D6" stroke-width="1.42"/>
<line x1="101.33" x2="321.33" y1="547.05" y2="547.05" stroke="#D6D6D6" stroke-width="1.42"/>
<use href="#pts" x="0" y="480"/>
<rect x="102.08" y="542.75" width="218.50" height="318.50" fill="none" stroke="#A4A4A4" stroke-width="1.5"/>
<line x1="124.40" x2="124.40" y1="862.00" y2="869.33" stroke="#A4A4A4" stroke-width="1.42"/>
<line x1="176.90" x2="176.90" y1="862.00" y2="869.33" stroke="#A4A4A4" stroke-width="1.42"/>
<line x1="229.40" x2="229.40" y1="862.00" y2="869.33" stroke="#A4A4A4" stroke-width="1.42"/>
<line x1="281.90" x2="281.90" y1="862.00" y2="869.33" stroke="#A4A4A4" stroke-width="1.42"/>
<line x1="94.00" x2="101.33" y1="767.95" y2="767.95" stroke="#A4A4A4" stroke-width="1.42"/>
<line x1="94.00" x2="101.33" y1="657.50" y2="657.50" stroke="#A4A4A4" stroke-width="1.42"/>
<line x1="94.00" x2="101.33" y1="547.05" y2="547.05" stroke="#A4A4A4" stroke-width="1.42"/>
<text x="88.03" y="777.05" font-size="23.47" text-anchor="end" fill="#393939">100</text>
<text x="88.03" y="666.60" font-size="23.47" text-anchor="end" fill="#393939">150</text>
<text x="88.03" y="556.15" font-size="23.47" text-anchor="end" fill="#393939">200</text>
<text transform="translate(136.15,876.40) rotate(-90)" font-size="16" text-anchor="end" fill="#393939">1200</text>
<text transform="translate(188.65,876.40) rotate(-90)" font-size="16" text-anchor="end" fill="#393939">1400</text>
<text transform="translate(241.15,876.40) rotate(-90)" font-size="16" text-anchor="end" fill="#393939">1600</text>
<text transform="translate(293.65,876.40) rotate(-90)" font-size="16" text-anchor="end" fill="#393939">1800</text>
<text x="100.90" y="519.60" font-size="35" fill="#000">theme_light</text>
<rect x="437.33" y="542.00" width="220.0" height="320.0" fill="#6B6B6B"/>
<line x1="486.65" x2="486.65" y1="542.00" y2="862.00" stroke="#565656" stroke-width="0.9"/>
<line x1="539.15" x2="539.15" y1="542.00" y2="862.00" stroke="#565656" stroke-width="0.9"/>
<line x1="591.65" x2="591.65" y1="542.00" y2="862.00" stroke="#565656" stroke-width="0.9"/>
<line x1="644.15" x2="644.15" y1="542.00" y2="862.00" stroke="#565656" stroke-width="0.9"/>
<line x1="437.33" x2="657.33" y1="823.17" y2="823.17" stroke="#565656" stroke-width="0.9"/>
<line x1="437.33" x2="657.33" y1="712.73" y2="712.73" stroke="#565656" stroke-width="0.9"/>
<line x1="437.33" x2="657.33" y1="602.27" y2="602.27" stroke="#565656" stroke-width="0.9"/>
<line x1="460.40" x2="460.40" y1="542.00" y2="862.00" stroke="#565656" stroke-width="1.42"/>
<line x1="512.90" x2="512.90" y1="542.00" y2="862.00" stroke="#565656" stroke-width="1.42"/>
<line x1="565.40" x2="565.40" y1="542.00" y2="862.00" stroke="#565656" stroke-width="1.42"/>
<line x1="617.90" x2="617.90" y1="542.00" y2="862.00" stroke="#565656" stroke-width="1.42"/>
<line x1="437.33" x2="657.33" y1="767.95" y2="767.95" stroke="#565656" stroke-width="1.42"/>
<line x1="437.33" x2="657.33" y1="657.50" y2="657.50" stroke="#565656" stroke-width="1.42"/>
<line x1="437.33" x2="657.33" y1="547.05" y2="547.05" stroke="#565656" stroke-width="1.42"/>
<use href="#pts" x="336" y="480"/>
<line x1="460.40" x2="460.40" y1="862.00" y2="869.33" stroke="#222222" stroke-width="1.42"/>
<line x1="512.90" x2="512.90" y1="862.00" y2="869.33" stroke="#222222" stroke-width="1.42"/>
<line x1="565.40" x2="565.40" y1="862.00" y2="869.33" stroke="#222222" stroke-width="1.42"/>
<line x1="617.90" x2="617.90" y1="862.00" y2="869.33" stroke="#222222" stroke-width="1.42"/>
<line x1="430.00" x2="437.33" y1="767.95" y2="767.95" stroke="#222222" stroke-width="1.42"/>
<line x1="430.00" x2="437.33" y1="657.50" y2="657.50" stroke="#222222" stroke-width="1.42"/>
<line x1="430.00" x2="437.33" y1="547.05" y2="547.05" stroke="#222222" stroke-width="1.42"/>
<text x="424.03" y="777.05" font-size="23.47" text-anchor="end" fill="#393939">100</text>
<text x="424.03" y="666.60" font-size="23.47" text-anchor="end" fill="#393939">150</text>
<text x="424.03" y="556.15" font-size="23.47" text-anchor="end" fill="#393939">200</text>
<text transform="translate(472.15,876.40) rotate(-90)" font-size="16" text-anchor="end" fill="#393939">1200</text>
<text transform="translate(524.65,876.40) rotate(-90)" font-size="16" text-anchor="end" fill="#393939">1400</text>
<text transform="translate(577.15,876.40) rotate(-90)" font-size="16" text-anchor="end" fill="#393939">1600</text>
<text transform="translate(629.65,876.40) rotate(-90)" font-size="16" text-anchor="end" fill="#393939">1800</text>
<text x="436.90" y="519.60" font-size="35" fill="#000">theme_dark</text>
<g fill="#000"><circle cx="896.7" cy="545.2" r="6.1"/><circle cx="973.5" cy="574.5" r="6.1"/><circle cx="985.7" cy="584.5" r="6.1"/><circle cx="899.0" cy="598.3" r="6.1"/><circle cx="959.5" cy="599.2" r="6.1"/><circle cx="937.8" cy="609.2" r="6.1"/><circle cx="949.3" cy="615.3" r="6.1"/><circle cx="961.7" cy="614.7" r="6.1"/><circle cx="937.3" cy="620.8" r="6.1"/><circle cx="947.5" cy="628.0" r="6.1"/><circle cx="921.8" cy="626.7" r="6.1"/><circle cx="925.7" cy="628.0" r="6.1"/><circle cx="944.5" cy="639.7" r="6.1"/><circle cx="833.2" cy="597.5" r="6.1"/><circle cx="844.8" cy="594.2" r="6.1"/><circle cx="845.3" cy="599.2" r="6.1"/><circle cx="833.7" cy="604.2" r="6.1"/><circle cx="844.8" cy="606.7" r="6.1"/><circle cx="831.8" cy="615.3" r="6.1"/><circle cx="844.8" cy="613.3" r="6.1"/><circle cx="839.0" cy="618.3" r="6.1"/><circle cx="825.2" cy="625.5" r="6.1"/><circle cx="838.7" cy="628.7" r="6.1"/><circle cx="808.2" cy="641.3" r="6.1"/><circle cx="833.7" cy="643.0" r="6.1"/><circle cx="834.0" cy="645.8" r="6.1"/><circle cx="859.0" cy="631.7" r="6.1"/><circle cx="862.3" cy="634.2" r="6.1"/><circle cx="859.0" cy="637.5" r="6.1"/><circle cx="865.7" cy="642.5" r="6.1"/><circle cx="871.5" cy="644.2" r="6.1"/><circle cx="864.0" cy="646.7" r="6.1"/><circle cx="883.5" cy="640.0" r="6.1"/><circle cx="895.3" cy="628.3" r="6.1"/><circle cx="902.7" cy="629.5" r="6.1"/><circle cx="897.3" cy="636.7" r="6.1"/><circle cx="902.3" cy="639.2" r="6.1"/><circle cx="894.0" cy="643.3" r="6.1"/><circle cx="908.2" cy="644.2" r="6.1"/><circle cx="914.0" cy="647.5" r="6.1"/><circle cx="918.2" cy="650.0" r="6.1"/><circle cx="924.5" cy="645.0" r="6.1"/><circle cx="932.3" cy="643.8" r="6.1"/><circle cx="961.5" cy="645.0" r="6.1"/><circle cx="962.0" cy="650.0" r="6.1"/><circle cx="973.7" cy="646.2" r="6.1"/><circle cx="983.5" cy="643.0" r="6.1"/><circle cx="687.2" cy="714.2" r="6.1"/><circle cx="707.2" cy="721.7" r="6.1"/><circle cx="767.0" cy="684.7" r="6.1"/><circle cx="782.7" cy="661.3" r="6.1"/><circle cx="779.5" cy="674.2" r="6.1"/><circle cx="786.2" cy="674.7" r="6.1"/><circle cx="787.3" cy="682.0" r="6.1"/><circle cx="787.3" cy="692.5" r="6.1"/><circle cx="783.3" cy="700.8" r="6.1"/><circle cx="782.0" cy="705.8" r="6.1"/><circle cx="766.7" cy="716.3" r="6.1"/><circle cx="767.2" cy="727.0" r="6.1"/><circle cx="787.0" cy="723.7" r="6.1"/><circle cx="793.7" cy="726.7" r="6.1"/><circle cx="797.3" cy="733.7" r="6.1"/><circle cx="787.0" cy="737.5" r="6.1"/><circle cx="787.3" cy="749.5" r="6.1"/><circle cx="763.2" cy="751.8" r="6.1"/><circle cx="803.3" cy="759.2" r="6.1"/><circle cx="807.2" cy="715.3" r="6.1"/><circle cx="807.2" cy="727.5" r="6.1"/><circle cx="813.0" cy="702.7" r="6.1"/><circle cx="817.5" cy="693.0" r="6.1"/><circle cx="829.5" cy="748.3" r="6.1"/><circle cx="829.5" cy="659.2" r="6.1"/><circle cx="827.8" cy="670.3" r="6.1"/><circle cx="845.3" cy="651.3" r="6.1"/><circle cx="852.8" cy="658.7" r="6.1"/><circle cx="878.7" cy="655.8" r="6.1"/><circle cx="869.5" cy="663.3" r="6.1"/><circle cx="878.7" cy="671.3" r="6.1"/><circle cx="926.2" cy="662.5" r="6.1"/><circle cx="937.0" cy="660.8" r="6.1"/><circle cx="934.8" cy="665.0" r="6.1"/><circle cx="950.2" cy="668.3" r="6.1"/><circle cx="959.5" cy="670.3" r="6.1"/><circle cx="978.7" cy="667.2" r="6.1"/><circle cx="981.8" cy="655.3" r="6.1"/><circle cx="989.0" cy="658.3" r="6.1"/><circle cx="993.2" cy="661.3" r="6.1"/><circle cx="925.2" cy="682.0" r="6.1"/><circle cx="939.0" cy="680.8" r="6.1"/><circle cx="949.0" cy="680.0" r="6.1"/><circle cx="925.7" cy="688.3" r="6.1"/><circle cx="953.2" cy="692.5" r="6.1"/><circle cx="962.0" cy="690.5" r="6.1"/><circle cx="985.7" cy="689.2" r="6.1"/><circle cx="974.0" cy="694.7" r="6.1"/><circle cx="985.7" cy="694.2" r="6.1"/><circle cx="976.5" cy="700.8" r="6.1"/><circle cx="938.2" cy="697.5" r="6.1"/><circle cx="952.3" cy="703.8" r="6.1"/><circle cx="925.7" cy="709.2" r="6.1"/><circle cx="937.3" cy="709.2" r="6.1"/><circle cx="988.2" cy="705.8" r="6.1"/><circle cx="962.3" cy="713.0" r="6.1"/><circle cx="970.7" cy="713.3" r="6.1"/><circle cx="986.5" cy="717.5" r="6.1"/><circle cx="972.3" cy="723.0" r="6.1"/><circle cx="941.5" cy="723.3" r="6.1"/><circle cx="950.7" cy="723.3" r="6.1"/><circle cx="926.2" cy="728.0" r="6.1"/><circle cx="950.7" cy="731.7" r="6.1"/><circle cx="945.7" cy="736.7" r="6.1"/><circle cx="962.0" cy="734.7" r="6.1"/><circle cx="961.5" cy="741.7" r="6.1"/><circle cx="938.2" cy="744.5" r="6.1"/><circle cx="973.7" cy="744.2" r="6.1"/><circle cx="914.8" cy="745.0" r="6.1"/><circle cx="926.0" cy="753.0" r="6.1"/><circle cx="983.2" cy="750.0" r="6.1"/><circle cx="990.7" cy="750.8" r="6.1"/><circle cx="986.5" cy="755.0" r="6.1"/><circle cx="976.2" cy="763.3" r="6.1"/><circle cx="932.8" cy="783.7" r="6.1"/><circle cx="945.3" cy="781.7" r="6.1"/><circle cx="954.3" cy="779.5" r="6.1"/><circle cx="979.8" cy="787.8" r="6.1"/><circle cx="937.3" cy="798.3" r="6.1"/><circle cx="973.7" cy="805.3" r="6.1"/><circle cx="962.3" cy="652.5" r="6.1"/><circle cx="817.3" cy="693.3" r="6.1"/><circle cx="812.8" cy="702.5" r="6.1"/><circle cx="807.3" cy="715.0" r="6.1"/><circle cx="807.3" cy="727.5" r="6.1"/><circle cx="803.2" cy="759.2" r="6.1"/><circle cx="879.0" cy="655.8" r="6.1"/><circle cx="830.7" cy="658.3" r="6.1"/><circle cx="828.2" cy="670.8" r="6.1"/><circle cx="852.3" cy="658.3" r="6.1"/><circle cx="869.0" cy="662.5" r="6.1"/><circle cx="879.8" cy="671.7" r="6.1"/><circle cx="893.2" cy="656.7" r="6.1"/><circle cx="914.0" cy="669.2" r="6.1"/><circle cx="907.3" cy="655.0" r="6.1"/><circle cx="892.3" cy="683.3" r="6.1"/><circle cx="874.8" cy="683.3" r="6.1"/><circle cx="880.7" cy="693.3" r="6.1"/><circle cx="890.7" cy="700.0" r="6.1"/><circle cx="910.7" cy="685.8" r="6.1"/><circle cx="915.7" cy="698.3" r="6.1"/><circle cx="912.3" cy="708.3" r="6.1"/><circle cx="915.7" cy="721.7" r="6.1"/><circle cx="912.3" cy="730.8" r="6.1"/><circle cx="902.3" cy="741.7" r="6.1"/><circle cx="894.8" cy="747.5" r="6.1"/><circle cx="904.0" cy="747.5" r="6.1"/><circle cx="829.0" cy="749.2" r="6.1"/><circle cx="835.7" cy="765.0" r="6.1"/><circle cx="829.0" cy="775.0" r="6.1"/><circle cx="830.7" cy="788.3" r="6.1"/><circle cx="850.7" cy="791.7" r="6.1"/><circle cx="839.0" cy="803.3" r="6.1"/><circle cx="864.0" cy="796.7" r="6.1"/><circle cx="904.0" cy="765.0" r="6.1"/><circle cx="906.5" cy="779.2" r="6.1"/><circle cx="905.7" cy="793.3" r="6.1"/><circle cx="902.3" cy="801.7" r="6.1"/><circle cx="845.3" cy="663.3" r="6.1"/><circle cx="837.3" cy="675.0" r="6.1"/><circle cx="842.3" cy="683.3" r="6.1"/><circle cx="854.0" cy="683.3" r="6.1"/><circle cx="864.0" cy="675.0" r="6.1"/><circle cx="828.7" cy="880.8" r="6.1"/><circle cx="877.8" cy="876.7" r="6.1"/><circle cx="898.2" cy="906.3" r="6.1"/><circle cx="819.8" cy="826.2" r="6.1"/><circle cx="829.0" cy="812.8" r="6.1"/><circle cx="870.2" cy="839.7" r="6.1"/><circle cx="879.0" cy="837.8" r="6.1"/><circle cx="864.5" cy="812.5" r="6.1"/><circle cx="864.5" cy="818.8" r="6.1"/><circle cx="880.3" cy="818.3" r="6.1"/><circle cx="883.2" cy="810.0" r="6.1"/><circle cx="882.3" cy="802.5" r="6.1"/><circle cx="865.7" cy="797.5" r="6.1"/><circle cx="874.0" cy="800.0" r="6.1"/><circle cx="850.3" cy="792.0" r="6.1"/><circle cx="850.3" cy="808.0" r="6.1"/><circle cx="840.7" cy="809.7" r="6.1"/><circle cx="839.0" cy="803.3" r="6.1"/><circle cx="830.7" cy="787.5" r="6.1"/><circle cx="829.0" cy="780.0" r="6.1"/><circle cx="901.2" cy="847.2" r="6.1"/><circle cx="901.5" cy="840.8" r="6.1"/><circle cx="901.7" cy="835.0" r="6.1"/><circle cx="902.0" cy="828.3" r="6.1"/><circle cx="902.3" cy="822.5" r="6.1"/><circle cx="900.7" cy="818.8" r="6.1"/><circle cx="907.3" cy="818.3" r="6.1"/><circle cx="904.0" cy="810.0" r="6.1"/><circle cx="901.5" cy="802.5" r="6.1"/><circle cx="905.7" cy="794.2" r="6.1"/><circle cx="905.7" cy="779.2" r="6.1"/><circle cx="842.3" cy="795.0" r="6.1"/><circle cx="865.7" cy="786.7" r="6.1"/><circle cx="877.3" cy="786.7" r="6.1"/><circle cx="884.0" cy="791.7" r="6.1"/><circle cx="894.0" cy="785.0" r="6.1"/><circle cx="899.0" cy="790.0" r="6.1"/><circle cx="847.3" cy="778.3" r="6.1"/><circle cx="864.0" cy="778.3" r="6.1"/><circle cx="877.3" cy="776.7" r="6.1"/><circle cx="900.7" cy="776.7" r="6.1"/><circle cx="707.2" cy="793.5" r="6.1"/><circle cx="719.5" cy="779.2" r="6.1"/><circle cx="719.5" cy="782.0" r="6.1"/><circle cx="787.2" cy="737.0" r="6.1"/><circle cx="797.3" cy="734.2" r="6.1"/><circle cx="782.8" cy="771.3" r="6.1"/><circle cx="787.8" cy="772.0" r="6.1"/><circle cx="778.7" cy="777.2" r="6.1"/><circle cx="829.3" cy="812.8" r="6.1"/><circle cx="864.5" cy="812.2" r="6.1"/><circle cx="864.5" cy="819.2" r="6.1"/><circle cx="840.3" cy="810.0" r="6.1"/><circle cx="850.0" cy="807.8" r="6.1"/><circle cx="839.5" cy="801.7" r="6.1"/><circle cx="850.3" cy="792.2" r="6.1"/><circle cx="830.3" cy="787.5" r="6.1"/><circle cx="828.7" cy="775.0" r="6.1"/><circle cx="828.7" cy="780.8" r="6.1"/><circle cx="829.5" cy="749.2" r="6.1"/><circle cx="835.3" cy="765.0" r="6.1"/><circle cx="931.8" cy="688.0" r="6.1"/><circle cx="931.8" cy="703.8" r="6.1"/><circle cx="978.8" cy="711.3" r="6.1"/><circle cx="829.3" cy="774.8" r="6.1"/><circle cx="841.0" cy="780.7" r="6.1"/><circle cx="841.0" cy="791.5" r="6.1"/><circle cx="840.2" cy="797.3" r="6.1"/><circle cx="867.7" cy="789.0" r="6.1"/><circle cx="874.3" cy="784.8" r="6.1"/><circle cx="881.0" cy="791.5" r="6.1"/><circle cx="879.3" cy="797.3" r="6.1"/><circle cx="885.2" cy="784.0" r="6.1"/><circle cx="891.0" cy="786.5" r="6.1"/><circle cx="878.7" cy="655.8" r="6.1"/><circle cx="845.3" cy="651.7" r="6.1"/><circle cx="852.3" cy="658.3" r="6.1"/><circle cx="829.8" cy="658.7" r="6.1"/><circle cx="926.2" cy="662.8" r="6.1"/><circle cx="907.3" cy="654.2" r="6.1"/><circle cx="894.0" cy="656.7" r="6.1"/><circle cx="890.7" cy="660.8" r="6.1"/><circle cx="909.0" cy="660.0" r="6.1"/><circle cx="869.0" cy="663.3" r="6.1"/><circle cx="900.7" cy="665.0" r="6.1"/><circle cx="914.0" cy="668.3" r="6.1"/><circle cx="893.2" cy="670.8" r="6.1"/><circle cx="907.3" cy="671.7" r="6.1"/><circle cx="878.2" cy="671.3" r="6.1"/><circle cx="828.2" cy="670.8" r="6.1"/><circle cx="837.3" cy="663.3" r="6.1"/><circle cx="842.3" cy="671.7" r="6.1"/><circle cx="854.0" cy="671.7" r="6.1"/><circle cx="864.0" cy="671.7" r="6.1"/><circle cx="894.0" cy="683.3" r="6.1"/><circle cx="905.7" cy="683.3" r="6.1"/><circle cx="874.0" cy="683.3" r="6.1"/><circle cx="834.0" cy="683.3" r="6.1"/><circle cx="855.7" cy="680.0" r="6.1"/><circle cx="845.7" cy="660.0" r="6.1"/><circle cx="833.9" cy="643.5" r="6.1"/><circle cx="833.9" cy="645.2" r="6.1"/><circle cx="845.6" cy="652.2" r="6.1"/><circle cx="830.2" cy="659.3" r="6.1"/><circle cx="852.2" cy="658.9" r="6.1"/><circle cx="828.9" cy="670.6" r="6.1"/><circle cx="865.2" cy="646.0" r="6.1"/><circle cx="859.3" cy="640.2" r="6.1"/><circle cx="871.0" cy="643.5" r="6.1"/><circle cx="878.5" cy="656.0" r="6.1"/><circle cx="869.3" cy="663.9" r="6.1"/><circle cx="877.7" cy="671.8" r="6.1"/><circle cx="882.7" cy="640.2" r="6.1"/><circle cx="894.3" cy="643.5" r="6.1"/><circle cx="893.5" cy="657.7" r="6.1"/><circle cx="908.5" cy="656.8" r="6.1"/><circle cx="899.3" cy="646.8" r="6.1"/><circle cx="911.8" cy="642.7" r="6.1"/><circle cx="919.3" cy="649.3" r="6.1"/><circle cx="924.3" cy="644.3" r="6.1"/><circle cx="892.7" cy="670.2" r="6.1"/><circle cx="914.3" cy="669.3" r="6.1"/><circle cx="893.9" cy="683.5" r="6.1"/><circle cx="909.3" cy="686.8" r="6.1"/><circle cx="872.7" cy="682.7" r="6.1"/><circle cx="879.3" cy="694.3" r="6.1"/><circle cx="891.0" cy="702.7" r="6.1"/><circle cx="914.3" cy="698.5" r="6.1"/><circle cx="835.2" cy="677.7" r="6.1"/><circle cx="835.2" cy="686.0" r="6.1"/><circle cx="834.8" cy="694.3" r="6.1"/><circle cx="834.3" cy="702.7" r="6.1"/><circle cx="833.9" cy="711.0" r="6.1"/><circle cx="829.3" cy="714.3" r="6.1"/><circle cx="832.9" cy="669.8" r="6.1"/><circle cx="837.8" cy="670.1" r="6.1"/><circle cx="843.7" cy="669.5" r="6.1"/><circle cx="850.1" cy="670.3" r="6.1"/><circle cx="854.7" cy="670.1" r="6.1"/><circle cx="860.9" cy="670.7" r="6.1"/><circle cx="867.0" cy="669.5" r="6.1"/><circle cx="873.1" cy="669.2" r="6.1"/><circle cx="877.7" cy="670.4" r="6.1"/><circle cx="895.4" cy="670.1" r="6.1"/><circle cx="901.3" cy="669.6" r="6.1"/><circle cx="906.6" cy="670.1" r="6.1"/><circle cx="912.0" cy="669.8" r="6.1"/><circle cx="834.5" cy="675.3" r="6.1"/><circle cx="841.3" cy="675.8" r="6.1"/><circle cx="847.3" cy="674.4" r="6.1"/><circle cx="852.1" cy="675.2" r="6.1"/><circle cx="857.0" cy="674.8" r="6.1"/><circle cx="863.0" cy="674.1" r="6.1"/><circle cx="868.5" cy="675.4" r="6.1"/><circle cx="874.3" cy="674.4" r="6.1"/><circle cx="880.4" cy="675.6" r="6.1"/><circle cx="898.3" cy="675.6" r="6.1"/><circle cx="902.9" cy="674.7" r="6.1"/><circle cx="908.7" cy="675.6" r="6.1"/><circle cx="838.3" cy="679.3" r="6.1"/><circle cx="849.2" cy="679.9" r="6.1"/><circle cx="856.1" cy="680.2" r="6.1"/><circle cx="860.9" cy="680.0" r="6.1"/><circle cx="866.9" cy="678.9" r="6.1"/><circle cx="873.0" cy="680.3" r="6.1"/><circle cx="878.6" cy="680.4" r="6.1"/><circle cx="899.9" cy="679.1" r="6.1"/><circle cx="905.8" cy="678.9" r="6.1"/><circle cx="835.6" cy="684.0" r="6.1"/><circle cx="853.0" cy="685.7" r="6.1"/><circle cx="857.9" cy="684.7" r="6.1"/><circle cx="862.8" cy="683.9" r="6.1"/><circle cx="869.0" cy="684.2" r="6.1"/><circle cx="875.7" cy="684.0" r="6.1"/><circle cx="879.7" cy="685.6" r="6.1"/><circle cx="897.7" cy="685.7" r="6.1"/><circle cx="904.1" cy="685.1" r="6.1"/><circle cx="908.5" cy="684.5" r="6.1"/><circle cx="838.8" cy="690.6" r="6.1"/><circle cx="850.1" cy="690.1" r="6.1"/><circle cx="854.6" cy="689.7" r="6.1"/><circle cx="860.5" cy="688.7" r="6.1"/><circle cx="865.6" cy="689.2" r="6.1"/><circle cx="871.7" cy="690.0" r="6.1"/><circle cx="878.7" cy="689.5" r="6.1"/><circle cx="899.9" cy="689.1" r="6.1"/><circle cx="906.4" cy="690.5" r="6.1"/><circle cx="836.2" cy="695.1" r="6.1"/><circle cx="841.5" cy="694.5" r="6.1"/><circle cx="858.9" cy="694.4" r="6.1"/><circle cx="863.5" cy="695.5" r="6.1"/><circle cx="869.8" cy="693.9" r="6.1"/><circle cx="874.3" cy="693.9" r="6.1"/><circle cx="897.4" cy="694.7" r="6.1"/><circle cx="902.6" cy="693.6" r="6.1"/><circle cx="909.9" cy="694.9" r="6.1"/><circle cx="837.7" cy="699.1" r="6.1"/><circle cx="854.4" cy="700.3" r="6.1"/><circle cx="860.5" cy="699.4" r="6.1"/><circle cx="866.7" cy="700.3" r="6.1"/><circle cx="872.0" cy="700.3" r="6.1"/><circle cx="877.8" cy="699.6" r="6.1"/><circle cx="893.8" cy="700.1" r="6.1"/><circle cx="899.8" cy="699.5" r="6.1"/><circle cx="906.6" cy="699.6" r="6.1"/><circle cx="911.5" cy="699.5" r="6.1"/><circle cx="834.8" cy="704.0" r="6.1"/><circle cx="841.5" cy="704.5" r="6.1"/><circle cx="853.2" cy="704.3" r="6.1"/><circle cx="858.2" cy="704.5" r="6.1"/><circle cx="863.7" cy="704.8" r="6.1"/><circle cx="869.2" cy="704.5" r="6.1"/><circle cx="875.0" cy="705.3" r="6.1"/><circle cx="881.1" cy="705.2" r="6.1"/><circle cx="908.1" cy="703.9" r="6.1"/><circle cx="838.5" cy="708.7" r="6.1"/><circle cx="844.6" cy="710.3" r="6.1"/><circle cx="848.9" cy="710.3" r="6.1"/><circle cx="855.0" cy="709.3" r="6.1"/><circle cx="861.8" cy="710.0" r="6.1"/><circle cx="865.8" cy="709.2" r="6.1"/><circle cx="872.2" cy="709.0" r="6.1"/><circle cx="877.2" cy="709.0" r="6.1"/><circle cx="905.3" cy="710.3" r="6.1"/><circle cx="912.4" cy="710.3" r="6.1"/><circle cx="834.9" cy="713.6" r="6.1"/><circle cx="840.8" cy="715.1" r="6.1"/><circle cx="847.3" cy="713.8" r="6.1"/><circle cx="851.6" cy="715.1" r="6.1"/><circle cx="858.1" cy="714.7" r="6.1"/><circle cx="862.8" cy="713.4" r="6.1"/><circle cx="869.7" cy="714.2" r="6.1"/><circle cx="874.1" cy="715.2" r="6.1"/><circle cx="880.9" cy="714.9" r="6.1"/><circle cx="885.5" cy="715.0" r="6.1"/><circle cx="903.4" cy="715.2" r="6.1"/><circle cx="908.5" cy="713.6" r="6.1"/><circle cx="831.6" cy="718.6" r="6.1"/><circle cx="837.8" cy="718.8" r="6.1"/><circle cx="844.4" cy="718.8" r="6.1"/><circle cx="849.5" cy="718.6" r="6.1"/><circle cx="854.9" cy="718.3" r="6.1"/><circle cx="860.3" cy="718.3" r="6.1"/><circle cx="867.0" cy="719.3" r="6.1"/><circle cx="871.5" cy="719.2" r="6.1"/><circle cx="878.7" cy="718.4" r="6.1"/><circle cx="884.1" cy="719.1" r="6.1"/><circle cx="889.2" cy="719.9" r="6.1"/><circle cx="894.6" cy="719.2" r="6.1"/><circle cx="900.9" cy="720.2" r="6.1"/><circle cx="905.9" cy="719.9" r="6.1"/><circle cx="912.2" cy="719.5" r="6.1"/><circle cx="828.8" cy="723.4" r="6.1"/><circle cx="834.5" cy="724.6" r="6.1"/><circle cx="840.5" cy="723.5" r="6.1"/><circle cx="845.8" cy="724.8" r="6.1"/><circle cx="853.1" cy="724.5" r="6.1"/><circle cx="857.6" cy="723.6" r="6.1"/><circle cx="863.3" cy="724.1" r="6.1"/><circle cx="868.6" cy="724.1" r="6.1"/><circle cx="874.5" cy="725.1" r="6.1"/><circle cx="881.6" cy="724.3" r="6.1"/><circle cx="885.8" cy="725.1" r="6.1"/><circle cx="891.6" cy="723.9" r="6.1"/><circle cx="896.7" cy="723.9" r="6.1"/><circle cx="903.3" cy="724.2" r="6.1"/><circle cx="908.4" cy="724.2" r="6.1"/><circle cx="913.7" cy="723.7" r="6.1"/><circle cx="831.6" cy="728.1" r="6.1"/><circle cx="837.8" cy="728.6" r="6.1"/><circle cx="844.0" cy="729.1" r="6.1"/><circle cx="850.0" cy="729.4" r="6.1"/><circle cx="855.6" cy="729.8" r="6.1"/><circle cx="860.6" cy="728.7" r="6.1"/><circle cx="867.5" cy="728.4" r="6.1"/><circle cx="872.6" cy="729.4" r="6.1"/><circle cx="876.9" cy="729.8" r="6.1"/><circle cx="884.3" cy="729.3" r="6.1"/><circle cx="889.6" cy="729.7" r="6.1"/><circle cx="894.1" cy="729.1" r="6.1"/><circle cx="900.5" cy="729.8" r="6.1"/><circle cx="906.8" cy="729.7" r="6.1"/><circle cx="912.0" cy="729.9" r="6.1"/><circle cx="834.6" cy="733.7" r="6.1"/><circle cx="840.2" cy="734.7" r="6.1"/><circle cx="846.8" cy="734.3" r="6.1"/><circle cx="852.6" cy="734.4" r="6.1"/><circle cx="858.0" cy="733.0" r="6.1"/><circle cx="864.3" cy="734.5" r="6.1"/><circle cx="869.3" cy="734.1" r="6.1"/><circle cx="875.3" cy="733.2" r="6.1"/><circle cx="881.1" cy="733.5" r="6.1"/><circle cx="885.5" cy="733.6" r="6.1"/><circle cx="892.5" cy="733.4" r="6.1"/><circle cx="898.1" cy="735.0" r="6.1"/><circle cx="903.3" cy="733.8" r="6.1"/><circle cx="838.7" cy="738.6" r="6.1"/><circle cx="844.0" cy="738.0" r="6.1"/><circle cx="861.2" cy="738.5" r="6.1"/><circle cx="866.5" cy="738.9" r="6.1"/><circle cx="872.1" cy="738.2" r="6.1"/><circle cx="878.6" cy="738.3" r="6.1"/><circle cx="884.5" cy="739.8" r="6.1"/><circle cx="888.2" cy="738.9" r="6.1"/><circle cx="895.5" cy="739.9" r="6.1"/><circle cx="900.4" cy="738.5" r="6.1"/><circle cx="836.0" cy="743.9" r="6.1"/><circle cx="841.8" cy="744.3" r="6.1"/><circle cx="857.0" cy="743.9" r="6.1"/><circle cx="863.6" cy="743.5" r="6.1"/><circle cx="868.6" cy="743.6" r="6.1"/><circle cx="874.6" cy="744.6" r="6.1"/><circle cx="879.7" cy="744.4" r="6.1"/><circle cx="892.9" cy="744.3" r="6.1"/><circle cx="898.5" cy="743.5" r="6.1"/><circle cx="831.7" cy="749.5" r="6.1"/><circle cx="837.7" cy="749.7" r="6.1"/><circle cx="843.3" cy="748.3" r="6.1"/><circle cx="849.5" cy="748.2" r="6.1"/><circle cx="854.9" cy="749.7" r="6.1"/><circle cx="861.6" cy="749.4" r="6.1"/><circle cx="866.8" cy="749.6" r="6.1"/><circle cx="873.0" cy="748.9" r="6.1"/><circle cx="878.3" cy="747.9" r="6.1"/><circle cx="901.4" cy="748.1" r="6.1"/><circle cx="835.4" cy="753.5" r="6.1"/><circle cx="840.3" cy="753.1" r="6.1"/><circle cx="846.1" cy="754.6" r="6.1"/><circle cx="852.3" cy="753.2" r="6.1"/><circle cx="858.8" cy="754.7" r="6.1"/><circle cx="863.6" cy="753.0" r="6.1"/><circle cx="868.7" cy="752.9" r="6.1"/><circle cx="874.7" cy="752.9" r="6.1"/><circle cx="880.1" cy="753.3" r="6.1"/><circle cx="897.5" cy="753.8" r="6.1"/><circle cx="843.6" cy="758.6" r="6.1"/><circle cx="850.4" cy="759.4" r="6.1"/><circle cx="855.9" cy="757.7" r="6.1"/><circle cx="859.9" cy="759.1" r="6.1"/><circle cx="877.6" cy="759.5" r="6.1"/><circle cx="841.3" cy="763.2" r="6.1"/><circle cx="845.9" cy="763.1" r="6.1"/><circle cx="852.6" cy="764.0" r="6.1"/><circle cx="857.2" cy="762.7" r="6.1"/><circle cx="863.7" cy="763.8" r="6.1"/><circle cx="880.3" cy="763.5" r="6.1"/><circle cx="887.3" cy="763.9" r="6.1"/><circle cx="892.8" cy="763.6" r="6.1"/><circle cx="897.1" cy="763.1" r="6.1"/><circle cx="832.8" cy="769.4" r="6.1"/><circle cx="837.6" cy="767.6" r="6.1"/><circle cx="843.5" cy="768.4" r="6.1"/><circle cx="849.9" cy="767.9" r="6.1"/><circle cx="855.8" cy="769.0" r="6.1"/><circle cx="860.8" cy="767.9" r="6.1"/><circle cx="867.4" cy="768.2" r="6.1"/><circle cx="877.3" cy="769.1" r="6.1"/><circle cx="883.1" cy="769.4" r="6.1"/><circle cx="889.2" cy="767.9" r="6.1"/><circle cx="894.3" cy="768.4" r="6.1"/><circle cx="900.8" cy="769.4" r="6.1"/><circle cx="836.1" cy="774.2" r="6.1"/><circle cx="841.5" cy="774.5" r="6.1"/><circle cx="847.5" cy="773.1" r="6.1"/><circle cx="851.7" cy="774.3" r="6.1"/><circle cx="858.5" cy="772.5" r="6.1"/><circle cx="864.0" cy="773.2" r="6.1"/><circle cx="869.1" cy="773.1" r="6.1"/><circle cx="874.3" cy="772.5" r="6.1"/><circle cx="880.2" cy="773.2" r="6.1"/><circle cx="897.4" cy="774.1" r="6.1"/><circle cx="904.0" cy="773.3" r="6.1"/><circle cx="833.3" cy="777.5" r="6.1"/><circle cx="838.0" cy="779.0" r="6.1"/><circle cx="844.4" cy="777.5" r="6.1"/><circle cx="848.6" cy="777.5" r="6.1"/><circle cx="856.0" cy="777.9" r="6.1"/><circle cx="861.3" cy="779.2" r="6.1"/><circle cx="866.2" cy="777.9" r="6.1"/><circle cx="873.1" cy="778.6" r="6.1"/><circle cx="877.4" cy="778.8" r="6.1"/><circle cx="883.1" cy="777.9" r="6.1"/><circle cx="901.4" cy="777.4" r="6.1"/><circle cx="905.6" cy="778.3" r="6.1"/><circle cx="836.2" cy="782.7" r="6.1"/><circle cx="852.5" cy="783.0" r="6.1"/><circle cx="857.6" cy="783.0" r="6.1"/><circle cx="864.2" cy="782.5" r="6.1"/><circle cx="874.5" cy="782.4" r="6.1"/><circle cx="897.2" cy="782.5" r="6.1"/><circle cx="902.5" cy="783.3" r="6.1"/></g>
<text transform="translate(712.80,925.20) rotate(-90)" font-size="16" text-anchor="end" fill="#000">1200</text>
<text transform="translate(792.98,925.20) rotate(-90)" font-size="16" text-anchor="end" fill="#000">1400</text>
<text transform="translate(873.16,925.20) rotate(-90)" font-size="16" text-anchor="end" fill="#000">1600</text>
<text transform="translate(953.34,925.20) rotate(-90)" font-size="16" text-anchor="end" fill="#000">1800</text>
<text x="672.00" y="520.55" font-size="35" fill="#000">theme_void</text>
<rect x="1109.33" y="542.00" width="220.0" height="320.0" fill="#E6E6E6"/>
<line x1="1158.65" x2="1158.65" y1="542.00" y2="862.00" stroke="#FFFFFF" stroke-width="1.42"/>
<line x1="1211.15" x2="1211.15" y1="542.00" y2="862.00" stroke="#FFFFFF" stroke-width="1.42"/>
<line x1="1263.65" x2="1263.65" y1="542.00" y2="862.00" stroke="#FFFFFF" stroke-width="1.42"/>
<line x1="1316.15" x2="1316.15" y1="542.00" y2="862.00" stroke="#FFFFFF" stroke-width="1.42"/>
<line x1="1109.33" x2="1329.33" y1="823.17" y2="823.17" stroke="#FFFFFF" stroke-width="1.42"/>
<line x1="1109.33" x2="1329.33" y1="712.73" y2="712.73" stroke="#FFFFFF" stroke-width="1.42"/>
<line x1="1109.33" x2="1329.33" y1="602.27" y2="602.27" stroke="#FFFFFF" stroke-width="1.42"/>
<line x1="1132.40" x2="1132.40" y1="542.00" y2="862.00" stroke="#FFFFFF" stroke-width="2.85"/>
<line x1="1184.90" x2="1184.90" y1="542.00" y2="862.00" stroke="#FFFFFF" stroke-width="2.85"/>
<line x1="1237.40" x2="1237.40" y1="542.00" y2="862.00" stroke="#FFFFFF" stroke-width="2.85"/>
<line x1="1289.90" x2="1289.90" y1="542.00" y2="862.00" stroke="#FFFFFF" stroke-width="2.85"/>
<line x1="1109.33" x2="1329.33" y1="767.95" y2="767.95" stroke="#FFFFFF" stroke-width="2.85"/>
<line x1="1109.33" x2="1329.33" y1="657.50" y2="657.50" stroke="#FFFFFF" stroke-width="2.85"/>
<line x1="1109.33" x2="1329.33" y1="547.05" y2="547.05" stroke="#FFFFFF" stroke-width="2.85"/>
<use href="#pts" x="1008" y="480"/>
<line x1="1132.40" x2="1132.40" y1="862.00" y2="869.33" stroke="#222222" stroke-width="3.0"/>
<line x1="1184.90" x2="1184.90" y1="862.00" y2="869.33" stroke="#222222" stroke-width="3.0"/>
<line x1="1237.40" x2="1237.40" y1="862.00" y2="869.33" stroke="#222222" stroke-width="3.0"/>
<line x1="1289.90" x2="1289.90" y1="862.00" y2="869.33" stroke="#222222" stroke-width="3.0"/>
<line x1="1102.00" x2="1109.33" y1="767.95" y2="767.95" stroke="#222222" stroke-width="3.0"/>
<line x1="1102.00" x2="1109.33" y1="657.50" y2="657.50" stroke="#222222" stroke-width="3.0"/>
<line x1="1102.00" x2="1109.33" y1="547.05" y2="547.05" stroke="#222222" stroke-width="3.0"/>
<text x="1096.03" y="777.05" font-size="23.47" text-anchor="end" fill="#393939">100</text>
<text x="1096.03" y="666.60" font-size="23.47" text-anchor="end" fill="#393939">150</text>
<text x="1096.03" y="556.15" font-size="23.47" text-anchor="end" fill="#393939">200</text>
<text transform="translate(1144.15,876.40) rotate(-90)" font-size="16" text-anchor="end" fill="#393939">1200</text>
<text transform="translate(1196.65,876.40) rotate(-90)" font-size="16" text-anchor="end" fill="#393939">1400</text>
<text transform="translate(1249.15,876.40) rotate(-90)" font-size="16" text-anchor="end" fill="#393939">1600</text>
<text transform="translate(1301.65,876.40) rotate(-90)" font-size="16" text-anchor="end" fill="#393939">1800</text>
<text x="1108.90" y="519.60" font-size="35" fill="#000">theme_gray</text>
</svg>
</body></html>
